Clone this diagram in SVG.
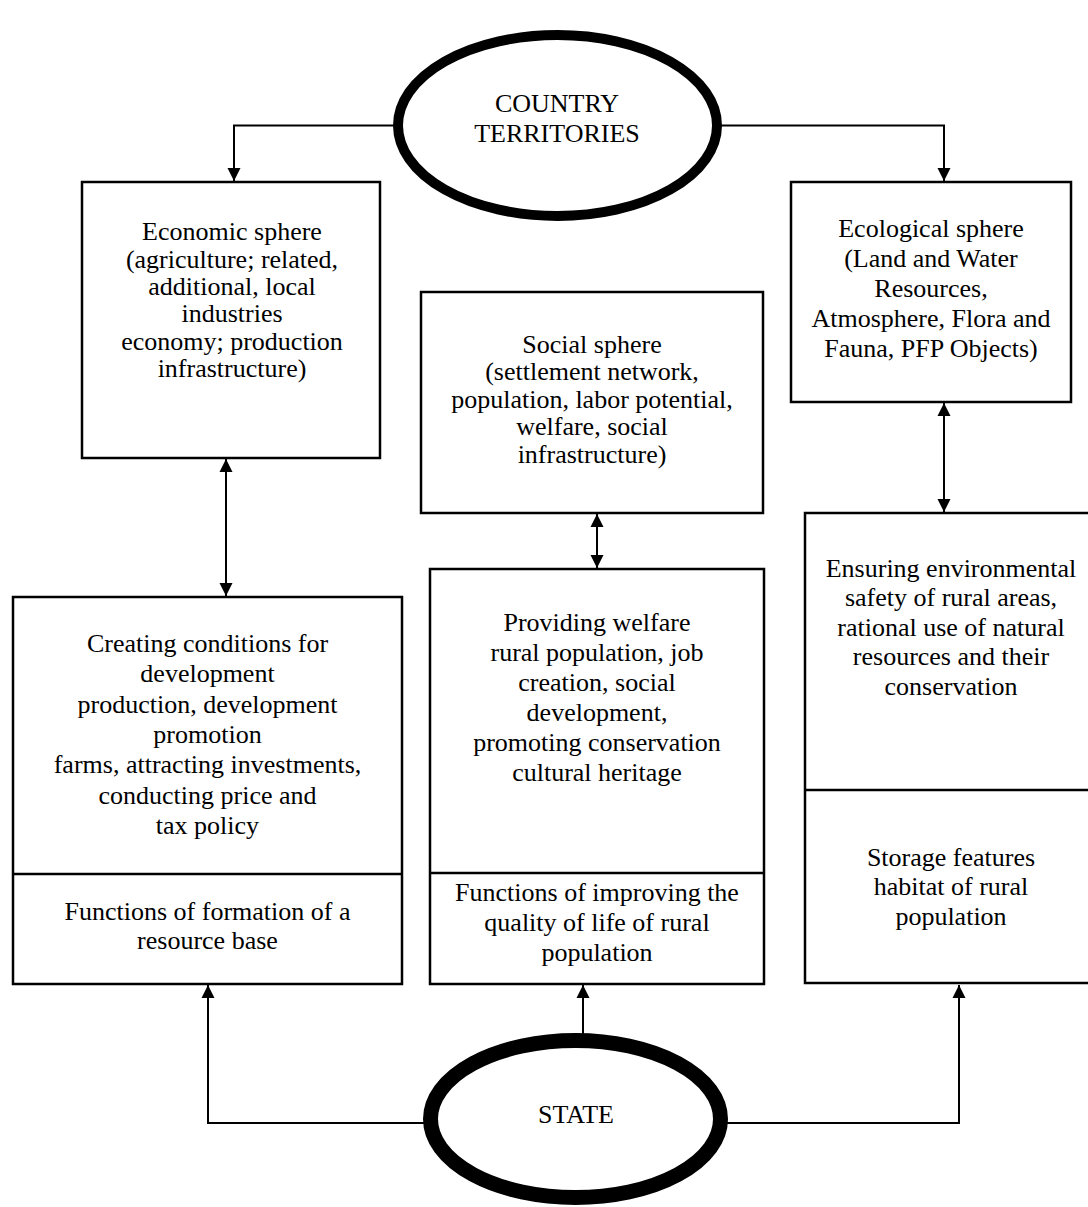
<svg xmlns="http://www.w3.org/2000/svg" width="1088" height="1207" viewBox="0 0 1088 1207">
<style>
  .box{fill:#fff;stroke:#000;stroke-width:2.5}
  .div{stroke:#000;stroke-width:2.5}
  .ell{fill:#fff;stroke:#000}
  .con{fill:none;stroke:#000;stroke-width:2}
  text{font-family:"Liberation Serif","Times New Roman",serif;font-size:26px;fill:#000;text-anchor:middle}
</style>
<defs>
  <marker id="ah" markerUnits="userSpaceOnUse" markerWidth="14" markerHeight="14" viewBox="0 0 14 14" refX="13" refY="7" orient="auto-start-reverse">
    <path d="M0,0.5 L13,7 L0,13.5 Z" fill="#000"/>
  </marker>
</defs>
<rect width="1088" height="1207" fill="#fff"/>
<g id="connectors">
  <polyline class="con" points="400,125.5 234,125.5 234,181" marker-end="url(#ah)"/>
  <polyline class="con" points="715,125.5 944,125.5 944,181" marker-end="url(#ah)"/>
  <line class="con" x1="226" y1="459" x2="226" y2="596" marker-start="url(#ah)" marker-end="url(#ah)"/>
  <line class="con" x1="597" y1="514" x2="597" y2="568" marker-start="url(#ah)" marker-end="url(#ah)"/>
  <line class="con" x1="944" y1="403" x2="944" y2="512" marker-start="url(#ah)" marker-end="url(#ah)"/>
  <polyline class="con" points="430,1123 208,1123 208,985" marker-end="url(#ah)"/>
  <line class="con" x1="583" y1="1036" x2="583" y2="985" marker-end="url(#ah)"/>
  <polyline class="con" points="722,1123 959,1123 959,985" marker-end="url(#ah)"/>
</g>
<g id="country">
  <ellipse class="ell" cx="557.5" cy="125.5" rx="159.5" ry="90.5" stroke-width="10"/>
  <text x="557" y="112">COUNTRY</text>
  <text x="557" y="142">TERRITORIES</text>
</g>
<g id="economic">
  <rect class="box" x="82" y="182" width="298" height="276"/>
  <text x="232" y="240">Economic sphere</text>
  <text x="232" y="267.5">(agriculture; related,</text>
  <text x="232" y="295">additional, local</text>
  <text x="232" y="322">industries</text>
  <text x="232" y="349.5">economy; production</text>
  <text x="232" y="377">infrastructure)</text>
</g>
<g id="social">
  <rect class="box" x="421" y="292" width="342" height="221"/>
  <text x="592" y="352.5">Social sphere</text>
  <text x="592" y="380">(settlement network,</text>
  <text x="592" y="407.5">population, labor potential,</text>
  <text x="592" y="435">welfare, social</text>
  <text x="592" y="462.5">infrastructure)</text>
</g>
<g id="ecological">
  <rect class="box" x="791" y="182" width="280" height="220"/>
  <text x="931" y="236.5">Ecological sphere</text>
  <text x="931" y="266.5">(Land and Water</text>
  <text x="931" y="296.5">Resources,</text>
  <text x="931" y="326.5">Atmosphere, Flora and</text>
  <text x="931" y="356.5">Fauna, PFP Objects)</text>
</g>
<g id="resource">
  <rect class="box" x="13" y="597" width="389" height="387"/>
  <line class="div" x1="13" y1="874" x2="402" y2="874"/>
  <text x="207.5" y="652">Creating conditions for</text>
  <text x="207.5" y="682">development</text>
  <text x="207.5" y="712.5">production, development</text>
  <text x="207.5" y="743">promotion</text>
  <text x="207.5" y="773">farms, attracting investments,</text>
  <text x="207.5" y="803.5">conducting price and</text>
  <text x="207.5" y="834">tax policy</text>
  <text x="207.5" y="920">Functions of formation of a</text>
  <text x="207.5" y="948.5">resource base</text>
</g>
<g id="quality">
  <rect class="box" x="430" y="569" width="334" height="415"/>
  <line class="div" x1="430" y1="873" x2="764" y2="873"/>
  <text x="597" y="631">Providing welfare</text>
  <text x="597" y="661">rural population, job</text>
  <text x="597" y="691">creation, social</text>
  <text x="597" y="721">development,</text>
  <text x="597" y="751">promoting conservation</text>
  <text x="597" y="781">cultural heritage</text>
  <text x="597" y="901">Functions of improving the</text>
  <text x="597" y="931">quality of life of rural</text>
  <text x="597" y="961">population</text>
</g>
<g id="habitat">
  <rect class="box" x="805" y="513" width="292" height="470"/>
  <line class="div" x1="805" y1="790" x2="1097" y2="790"/>
  <text x="951" y="577">Ensuring environmental</text>
  <text x="951" y="606">safety of rural areas,</text>
  <text x="951" y="635.5">rational use of natural</text>
  <text x="951" y="665">resources and their</text>
  <text x="951" y="694.5">conservation</text>
  <text x="951" y="866">Storage features</text>
  <text x="951" y="895">habitat of rural</text>
  <text x="951" y="925">population</text>
</g>
<g id="state">
  <ellipse class="ell" cx="575.5" cy="1119" rx="145" ry="78.5" stroke-width="15"/>
  <text x="576" y="1123">STATE</text>
</g>
</svg>
